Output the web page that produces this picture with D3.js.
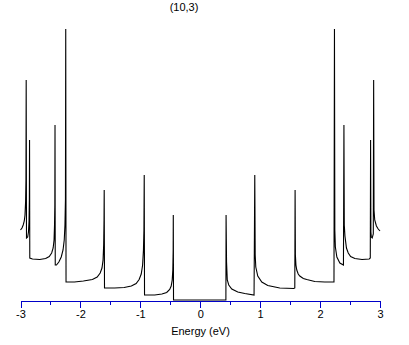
<!DOCTYPE html>
<meta charset="utf-8">
<style>
body { margin: 0; background: #fff; }
.axis path, .axis line { stroke: #0000c8; shape-rendering: crispEdges; }
.axis text { font: 11px "Liberation Sans", sans-serif; fill: #000; }
.dos { fill: none; stroke: #000; stroke-width: 1.1; }
</style>
<svg width="409" height="345"></svg>
<script src="https://cdn.jsdelivr.net/npm/d3@7"></script>
<script>

// density of states (energy in eV, DOS in arbitrary units)
var energy = [
  -3.000, -2.975, -2.955, -2.937, -2.925, -2.915, -2.909, -2.905, -2.900, -2.880, -2.867, -2.858,
  -2.852, -2.849, -2.845, -2.800, -2.680, -2.580, -2.520, -2.480, -2.455, -2.440, -2.432, -2.427,
  -2.424, -2.420, -2.400, -2.360, -2.320, -2.290, -2.270, -2.258, -2.250, -2.245, -2.240, -2.100,
  -1.950, -1.800, -1.720, -1.670, -1.640, -1.622, -1.612, -1.606, -1.603, -1.598, -1.430, -1.270,
  -1.150, -1.070, -1.020, -0.985, -0.962, -0.948, -0.940, -0.935, -0.930, -0.760, -0.640, -0.560,
  -0.510, -0.485, -0.468, -0.458, -0.452, -0.450, -0.446,
   0.000,
   0.428,  0.431,  0.439,  0.451,  0.476,  0.526,  0.626,  0.743,  0.898,  0.910,  0.917,  0.927,
   0.960,  1.027,  1.127,  1.327,  1.561,  1.578,  1.583,  1.588,  1.597,  1.611,  1.635,  1.661,
   1.720,  1.778,  1.912,  2.078,  2.232,  2.240,  2.246,  2.255,  2.280,  2.330,  2.390,  2.398,
   2.404,  2.415,  2.440,  2.470,  2.510,  2.580,  2.700,  2.820,  2.838,  2.843,  2.848,  2.855,
   2.870,  2.888,  2.894,  2.900,  2.912,  2.940,  2.970,  3.000
];
var dos = [
   7.0,  7.2,  7.5,  7.9,  8.5,  9.8, 12.0, 22.0,  6.2,  6.3,  6.8,  7.8,
  10.0, 16.0,  4.2,  4.1,  4.05, 4.15, 4.35, 4.7,  5.2,  6.0,  7.5,  9.5,
  17.5,  3.5,  3.5,  3.8,  4.3,  5.0,  6.0,  7.5, 10.0, 27.1,  1.8,  1.8,
   1.9,  2.05, 2.3,  2.7,  3.2,  4.0,  5.5,  8.0, 11.0,  1.2,  1.2,  1.25,
   1.4,  1.65, 2.05, 2.6,  3.5,  5.0,  7.0, 12.5,  0.5,  0.5,  0.6,  0.75,
   1.05, 1.4,  2.0,  3.0,  5.0,  8.5,  0.0,
   0.0,
   0.0,  8.5,  3.8,  2.0,  1.5,  1.1,  0.8,  0.65, 0.5, 12.5,  4.5,  3.3,
   2.4,  1.8,  1.45, 1.2,  1.15, 1.2, 11.0,  4.5,  3.5,  3.0,  2.6,  2.4,
   2.15, 2.05, 1.85, 1.8,  1.8, 27.1,  7.0,  5.3,  4.3,  3.7,  3.5, 17.5,
   7.5,  6.4,  5.2,  4.7,  4.35, 4.15, 4.05, 4.1,  4.2, 16.0,  6.8,  6.3,
   6.2,  6.6, 22.0,  9.0,  8.0,  7.4,  7.1,  6.9
];
var majorTicks = [-3, -2, -1, 0, 1, 2, 3];
var minorTicks = [-2.5, -1.5, -0.5, 0.5, 1.5, 2.5];

var svg = d3.select("svg");

var x = d3.scaleLinear().domain([-3, 3]).range([20.5, 380]),
    y = d3.scaleLinear().domain([0, 27]).range([300, 30]);

var points = energy.map(function(e, i) { return [e, dos[i]]; });

svg.append("path")
  .attr("class", "dos")
  .attr("d", d3.line()
    .x(function(d) { return x(d[0]); })
    .y(function(d) { return y(d[1]); })(points));

svg.append("g")
  .attr("class", "axis")
  .attr("transform", "translate(0,300.5)")
  .call(d3.axisBottom(x).tickValues(minorTicks).tickSize(4.5).tickFormat(""))
  .select(".domain").remove();

svg.append("g")
  .attr("class", "axis")
  .attr("transform", "translate(0,300.5)")
  .call(d3.axisBottom(x).tickValues(majorTicks).tickSizeInner(7).tickSizeOuter(0)
    .tickPadding(3).tickFormat(function(d) { return String(d); }));

svg.append("text")
  .attr("x", 200.5).attr("y", 335)
  .attr("text-anchor", "middle")
  .style("font", "11px 'Liberation Sans', sans-serif")
  .text("Energy (eV)");

svg.append("text")
  .attr("x", 184).attr("y", 11)
  .attr("text-anchor", "middle")
  .style("font", "11px 'Liberation Sans', sans-serif")
  .text("(10,3)");
</script>
